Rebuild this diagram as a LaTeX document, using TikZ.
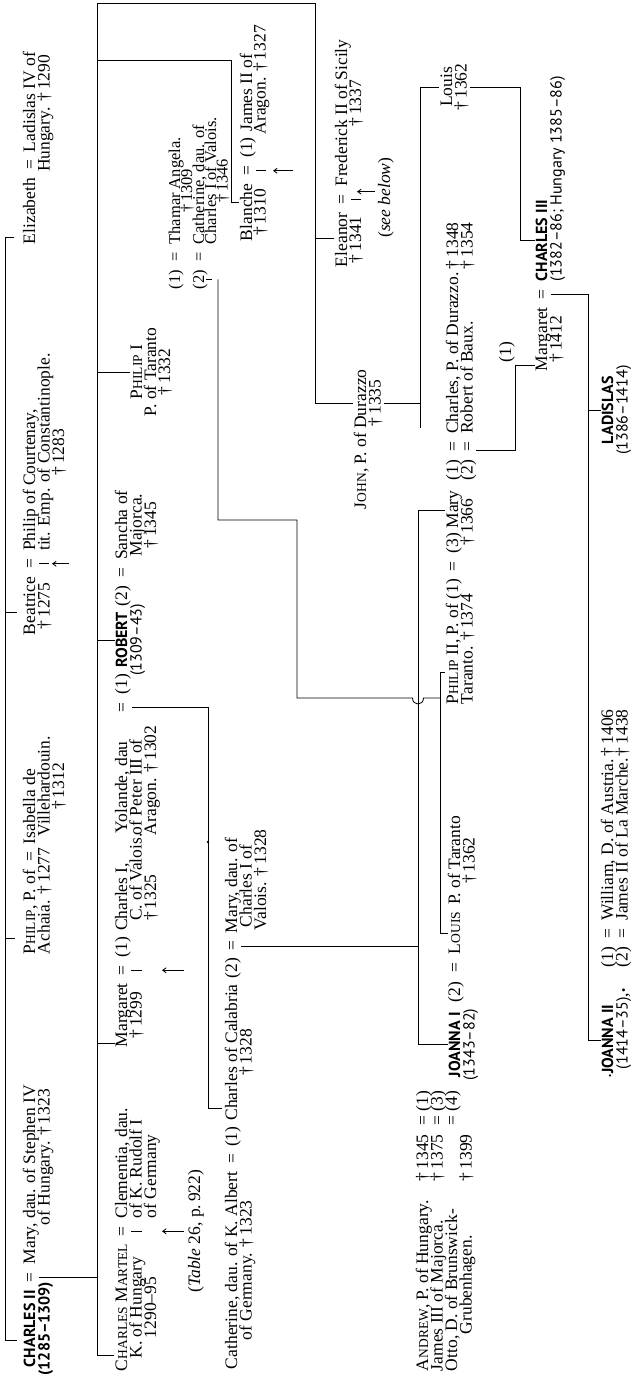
\documentclass[tikz,border=0pt]{standalone}
\usepackage{fontspec}
\setmainfont{Liberation Serif}
\newfontfamily\kingfont{PT Sans}
\usetikzlibrary{arrows.meta}
\newcommand\fsz{\fontsize{17.5}{14.5}\selectfont}
\newcommand\fszs{\fontsize{16.5}{12}\selectfont}
\newcommand\king[1]{{\kingfont\bfseries\fontsize{16}{14.5}\selectfont #1}}
\newcommand\yr[1]{{\kingfont\fontsize{16}{14.5}\selectfont #1}}
\newcommand\fsc[2]{#1{\fontsize{13.5}{14.5}\selectfont #2}}
\newcommand\dg[1]{\textdagger\,#1}
\begin{document}
\begin{tikzpicture}[x=1pt,y=-1pt,
  tx/.style={rotate=90,inner sep=0pt,outer sep=1pt,anchor=base west,font=\fsz},
  ts/.style={tx,font=\fszs},
  ln/.style={line width=0.85pt},
  ar/.style={ln,-{Straight Barb[length=3.5pt,width=5pt]}}]
\fill[white] (0,0) rectangle (640,1394);
\useasboundingbox (0,0) rectangle (640,1394);

% ---------- generation 1 ----------
\node[tx] (cII) at (35,1368) {\king{CHARLES II}};
\node[tx] (cIIe) at ([yshift=6pt]cII.base east) {=};
\node[tx] (cIIm) at ([yshift=6pt]cIIe.base east) {Mary, dau. of Stephen IV};
\node[tx,anchor=base] (cIIr) at ([xshift=14.5pt]cII.base) {\king{(1285–1309)}};
\node[tx,anchor=base east] (cIIh) at ([xshift=14.5pt,yshift=-4pt]cIIm.base east) {of Hungary. \dg{1323}};

\node[tx] (phA) at (35,955) {\fsc{P}{HILIP}, P. of};
\node[tx] (phAe) at ([yshift=6pt]phA.base east) {=};
\node[tx] (phAi) at ([yshift=6pt]phAe.base east) {Isabella de};
\node[tx] (phA2) at ([xshift=14.5pt]phA.base west) {Achaia. \dg{1277}};
\node[tx] (phAi2) at ([yshift=9pt]phA2.base east) {Villehardouin.};
\node[tx,anchor=base] (phAi3) at ([xshift=14.5pt]phAi2.base) {\dg{1312}};

\node[tx] (be) at (35,636) {Beatrice};
\node[tx] (bee) at ([yshift=6pt]be.base east) {=};
\node[tx] (bep) at ([yshift=6pt]bee.base east) {Philip of Courtenay,};
\node[tx,anchor=base] (be2) at ([xshift=14.5pt]be.base) {\dg{1275}};
\node[tx] (bep2) at ([xshift=14.5pt]bep.base west) {tit. Emp. of Constantinople.};
\node[tx,anchor=base] (bep3) at ([xshift=14.5pt]bep2.base) {\dg{1283}};

\node[tx] (el) at (35,245) {Elizabeth};
\node[tx] (ele) at ([yshift=6pt]el.base east) {=};
\node[tx] (ell) at ([yshift=6pt]ele.base east) {Ladislas IV of};
\node[tx,anchor=base east] (ell2) at ([xshift=14.5pt,yshift=-3pt]ell.base east) {Hungary. \dg{1290}};

\draw[ln] (14,237) -- (5,237) -- (5,1340) -- (17,1340);
\draw[ln] (5,938) -- (15,938);
\draw[ln] (5,612) -- (17,612);
\draw[ln] ([xshift=3pt]cIIe.south) -- (cIIe.south -| 97,0);
\draw[ln] ([xshift=3pt]bee.south) -- ([xshift=13pt]bee.south);
\draw[ar] ([xshift=33pt]bee.south) -- ([xshift=16pt]bee.south);

% ---------- generation 2 ----------
\node[tx] (cm) at (127,1372) {\fsc{C}{HARLES} \fsc{M}{ARTEL}};
\node[tx] (cme) at ([yshift=6pt]cm.base east) {=};
\node[tx] (cmc) at ([yshift=6pt]cme.base east) {Clementia, dau.};
\node[tx,anchor=base] (cm2) at ([xshift=14.5pt]cm.base) {K. of Hungary};
\node[tx,anchor=base] (cm3) at ([xshift=29pt]cm.base) {1290–95};
\node[tx] (cmc2) at ([xshift=14.5pt]cmc.base west) {of K. Rudolf I};
\node[tx] (cmc3) at ([xshift=29pt]cmc.base west) {of Germany};
\draw[ln] ([xshift=3pt]cme.south) -- ([xshift=14pt]cme.south);
\draw[ar] ([xshift=56pt]cme.south) -- ([xshift=34pt]cme.south);
\node[tx,anchor=base] (tab) at ([xshift=73pt]cme.base) {(\textit{Table} 26, p.\,922)};

\node[tx] (mg) at (127,1048) {Margaret};
\node[tx] (mge) at ([yshift=6pt]mg.base east) {=};
\node[tx] (mg1) at ([yshift=6pt]mge.base east) {(1)};
\node[tx] (mgc) at ([yshift=4pt]mg1.base east) {Charles I,};
\node[tx,anchor=base] (mg2) at ([xshift=14.5pt]mg.base) {\dg{1299}};
\node[tx] (mgc2) at ([xshift=14.5pt,yshift=10pt]mgc.base west) {C. of Valois.};
\node[tx] (mgc3) at ([xshift=29pt,yshift=10pt]mgc.base west) {\dg{1325}};
\draw[ln] ([xshift=3pt]mge.south) -- ([xshift=14pt]mge.south);
\draw[ar] ([xshift=56pt]mge.south) -- ([xshift=34pt]mge.south);

\node[tx] (yo) at (127,834) {Yolande, dau};
\node[tx] (yo2) at ([xshift=14.5pt,yshift=-2pt]yo.base west) {of Peter III of};
\node[tx] (yo3) at ([xshift=29pt,yshift=-2pt]yo.base west) {Aragon. \dg{1302}};
\node[tx] (roe) at (127,713) {=};
\node[tx] (ro1) at ([yshift=6pt]roe.base east) {(1)};
\node[tx] (rok) at ([yshift=4pt]ro1.base east) {\king{ROBERT}};
\node[tx] (ro2) at ([yshift=4pt]rok.base east) {(2)};
\node[tx] (roe2) at ([yshift=6pt]ro2.base east) {=};
\node[tx] (sa) at ([yshift=6pt]roe2.base east) {Sancha of};
\node[tx,anchor=base] (ror) at ([xshift=14.5pt]rok.base) {\yr{(1309–43)}};
\node[tx,anchor=base] (sa2) at ([xshift=14.5pt]sa.base) {Majorca.};
\node[tx,anchor=base] (sa3) at ([xshift=29pt]sa.base) {\dg{1345}};
\draw[ln] ([xshift=4pt]roe.south) -| (208,1108) -- (222,1108);
\fill (208,842) circle[radius=1.4pt];

\node[tx,anchor=base] (p1) at (142,372) {\fsc{P}{HILIP} I};
\node[tx,anchor=base] (p1b) at (156,372) {P. of Taranto};
\node[tx,anchor=base] (p1c) at (170,372) {\dg{1332}};
\node[ts] (t1) at (180,290) {(1)};
\node[ts] (t1e) at ([yshift=6pt]t1.base east) {=};
\node[ts] (t1n) at ([yshift=6pt]t1e.base east) {Thamar Angela.};
\node[ts,anchor=base] (t1d) at ([xshift=12pt]t1n.base) {\dg{1309}};
\node[ts] (t2) at (204,290) {(2)};
\node[ts] (t2e) at ([yshift=6pt]t2.base east) {=};
\node[ts] (t2n) at ([yshift=6pt]t2e.base east) {Catherine, dau. of};
\node[ts] (t2b) at ([xshift=12pt]t2n.base west) {Charles I of Valois.};
\node[ts,anchor=base] (t2c) at ([xshift=11.5pt]t2b.base) {\dg{1346}};
\draw[ln] (t2.south -| 206,0) -- (t2.south -| 212,0);

\node[tx] (bl) at (252,242) {Blanche};
\node[tx] (ble) at ([yshift=6pt]bl.base east) {=};
\node[tx] (bl1) at ([yshift=6pt]ble.base east) {(1)};
\node[tx] (blj) at ([yshift=4pt]bl1.base east) {James II of};
\node[tx,anchor=base] (bl2) at ([xshift=13.5pt]bl.base) {\dg{1310}};
\node[tx] (blj2) at ([xshift=13.5pt,yshift=-3pt]blj.base west) {Aragon. \dg{1327}};
\draw[ln] ([xshift=3pt]ble.south) -- ([xshift=13pt]ble.south);
\draw[ar] ([xshift=40pt]ble.south) -- ([xshift=20pt]ble.south);

\node[tx] (eo) at (347,268) {Eleanor};
\node[tx] (eoe) at ([yshift=6pt]eo.base east) {=};
\node[tx] (eof) at ([yshift=6pt]eoe.base east) {Frederick II of Sicily};
\node[tx,anchor=base] (eo2) at ([xshift=14pt]eo.base) {\dg{1341}};
\node[tx,anchor=base] (eof2) at ([xshift=14pt,yshift=10pt]eof.base) {\dg{1337}};
\draw[ln] ([xshift=3pt]eoe.south) -- ([xshift=13pt]eoe.south);
\draw[ar] ([xshift=27pt,yshift=8pt]eoe.south) -- ([xshift=9pt,yshift=8pt]eoe.south);
\node[tx,anchor=base] (sb) at ([xshift=43pt,yshift=2pt]eoe.base) {(\textit{see below})};

\node[tx] (jn) at (366,510) {\fsc{J}{OHN}, P. of Durazzo};
\node[tx,anchor=base] (jnd) at (380.5,403) {\dg{1335}};

\draw[ln] (cm.north |- 0,1355) -- (97,1355) -- (97,3) -- (315,3) -- (315,403) -- (jn.north |- 0,403);
\draw[ln] (97,1043) -- (mg.north |- 0,1043);
\draw[ln] (rok.north -| 97,0) -- (rok.north);
\draw[ln] (p1.north -| 97,0) -- (p1.north);
\draw[ln] (97,60) -- (231,60) -- (231,202) -- (bl.north |- 0,202);
\draw[ln] (315,238) -- (eo.north |- 0,238);

% ---------- generation 3 ----------
\node[tx] (ca) at (237,1370) {Catherine, dau. of K. Albert};
\node[tx] (cae) at ([yshift=6pt]ca.base east) {=};
\node[tx] (ca1) at ([yshift=5pt]cae.base east) {(1)};
\node[tx] (calc) at ([yshift=4pt]ca1.base east) {Charles of Calabria};
\node[tx] (ca2) at ([yshift=4pt]calc.base east) {(2)};
\node[tx] (cae2) at ([yshift=5pt]ca2.base east) {=};
\node[tx] (cam) at ([yshift=6pt]cae2.base east) {Mary, dau. of};
\node[tx,anchor=base] (cag) at ([xshift=14.5pt]ca.base) {of Germany. \dg{1323}};
\node[tx,anchor=base] (calcd) at ([xshift=14.5pt]calc.base) {\dg{1328}};
\node[tx] (cam2) at ([xshift=14.5pt,yshift=6pt]cam.base west) {Charles I of};
\node[tx] (cam3) at ([xshift=29pt,yshift=3pt]cam.base west) {Valois. \dg{1328}};

\node[tx] (lu) at (452,108) {Louis};
\node[tx,anchor=base] (lud) at ([xshift=14.5pt]lu.base) {\dg{1362}};

\node[tx] (p2) at (458,705) {\fsc{P}{HILIP} II, P. of (1)};
\node[tx] (p2e) at ([yshift=6pt]p2.base east) {=};
\node[tx] (mr) at ([yshift=6pt]p2e.base east) {(3) Mary};
\node[tx] (p2b) at ([xshift=14.5pt]p2.base west) {Taranto. \dg{1374}};
\node[tx,anchor=base] (mrd) at ([xshift=14.5pt]mr.base) {\dg{1366}};
\node[tx] (c1) at (458,481) {(1)};
\node[tx] (c1e) at ([yshift=6pt]c1.base east) {=};
\node[tx] (c1n) at ([yshift=6pt]c1e.base east) {Charles, P. of Durazzo.};
\node[tx] (c1d) at (458,270) {\dg{1348}};
\node[tx] (c2) at (472.5,481) {(2)};
\node[tx] (c2e) at ([yshift=6pt]c2.base east) {=};
\node[tx] (c2n) at ([yshift=6pt]c2e.base east) {Robert of Baux.};
\node[tx] (c2d) at (472.5,270) {\dg{1354}};

\node[tx] (an) at (428,1372) {\fsc{A}{NDREW}, P. of Hungary.};
\node[tx] (ja) at (442.5,1372) {James III of Majorca.};
\node[tx] (ot) at (457,1372) {Otto, D. of Brunswick-};
\node[tx] (gr) at (471.5,1335) {Grubenhagen.};
\node[tx] (adg) at (428,1182) {\dg{1345}};
\node[tx] (jdg) at (442.5,1182) {\dg{1375}};
\node[tx] (gdg) at (471.5,1182) {\dg{1399}};
\node[tx] (ane) at (428,1126) {=};
\node[tx] (jae) at (442.5,1126) {=};
\node[tx] (ote) at (457,1126) {=};
\node[tx] (an1) at (428,1112) {(1)};
\node[tx] (ja3) at (442.5,1112) {(3)};
\node[tx] (ot4) at (457,1112) {(4)};
\node[tx] (jo1) at (460,1078) {\king{JOANNA I}};
\node[tx] (jo2) at ([yshift=8pt]jo1.base east) {(2)};
\node[tx] (joe) at ([yshift=7pt]jo2.base east) {=};
\node[tx] (lo) at ([yshift=7pt]joe.base east) {\fsc{L}{OUIS}};
\node[tx] (lop) at ([yshift=5pt]lo.base east) {P. of Taranto};
\node[tx,anchor=base] (jo1r) at ([xshift=14.5pt]jo1.base) {\yr{(1343–82)}};
\node[tx,anchor=base] (lod) at ([xshift=14.5pt]lop.base) {\dg{1362}};

% connectors gen 3
\draw[ln] (t2.south -| 218,0) -- (218,520) -- (297,520) -- (297,698) -- (412.5,698)
   .. controls (412.5,706) and (423.5,706) .. (423.5,698) -- (440,698);
\draw[ln] (p2.north |- 0,672) -- (440,672) -- (lo.north -| 440,0) -- (lo.north);
\draw[ln] ([xshift=3pt]cae2.south) -- (cae2.south -| 418,0);
\draw[ln] (mr.north |- 0,510) -- (418,510) -- (jo1.north -| 418,0) -- (jo1.north);
\draw[ln] (jnd.south) -- (jnd.south -| 420,0);
\draw[ln] (lu.north -| 420,0) -- (420,428);
\draw[ln] (lu.north -| 420,0) -- (lu.north);

% ---------- generation 4/5 ----------
\node[tx] (m3) at (547,372) {Margaret};
\node[tx] (m3e) at ([yshift=6pt]m3.base east) {=};
\node[tx] (c3) at ([yshift=6pt]m3e.base east) {\king{CHARLES III}};
\node[tx,anchor=base] (m3d) at ([xshift=14.5pt]m3.base) {\dg{1412}};
\node[tx] (c3r) at ([xshift=14.5pt]c3.base west) {\yr{(1382–86; Hungary 1385–86)}};
\node[tx,anchor=base] (one) at (511,352) {(1)};

\draw[ln] (lud.south) -- (lud.south -| 520,0) -- (c3.north -| 520,0) -- (c3.north);
\draw[ln] (476,450) -- (515,450) -- (515,365) -- (m3.north |- 0,365);

\node[tx,anchor=base] (la) at (613,410) {\king{LADISLAS}};
\node[tx,anchor=base] (lar) at ([xshift=14.5pt]la.base) {\yr{(1386–1414)}};

\node[tx] (j2) at (613,1078) {{\fontsize{9}{10}\selectfont\textbullet}\king{JOANNA II}};
\node[tx] (j2r) at ([xshift=14.5pt,yshift=8pt]j2.base west) {\yr{(1414–35)},{\fontsize{12}{10}\selectfont\textbullet}};
\node[tx] (w1) at (613,968) {(1)};
\node[tx] (w1e) at ([yshift=6pt]w1.base east) {=};
\node[tx] (w1n) at ([yshift=6pt]w1e.base east) {William, D. of Austria.};
\node[tx] (w1d) at (613,757) {\dg{1406}};
\node[tx] (w2) at (627.5,968) {(2)};
\node[tx] (w2e) at ([yshift=6pt]w2.base east) {=};
\node[tx] (w2n) at ([yshift=6pt]w2e.base east) {James II of La Marche.};
\node[tx] (w2d) at (627.5,757) {\dg{1438}};

\draw[ln] ([xshift=3pt]m3e.south) -- (m3e.south -| 588,0) -- (j2.north -| 588,0) -- (j2.north);
\draw[ln] (la.north -| 588,0) -- (la.north);
\end{tikzpicture}
\end{document}
